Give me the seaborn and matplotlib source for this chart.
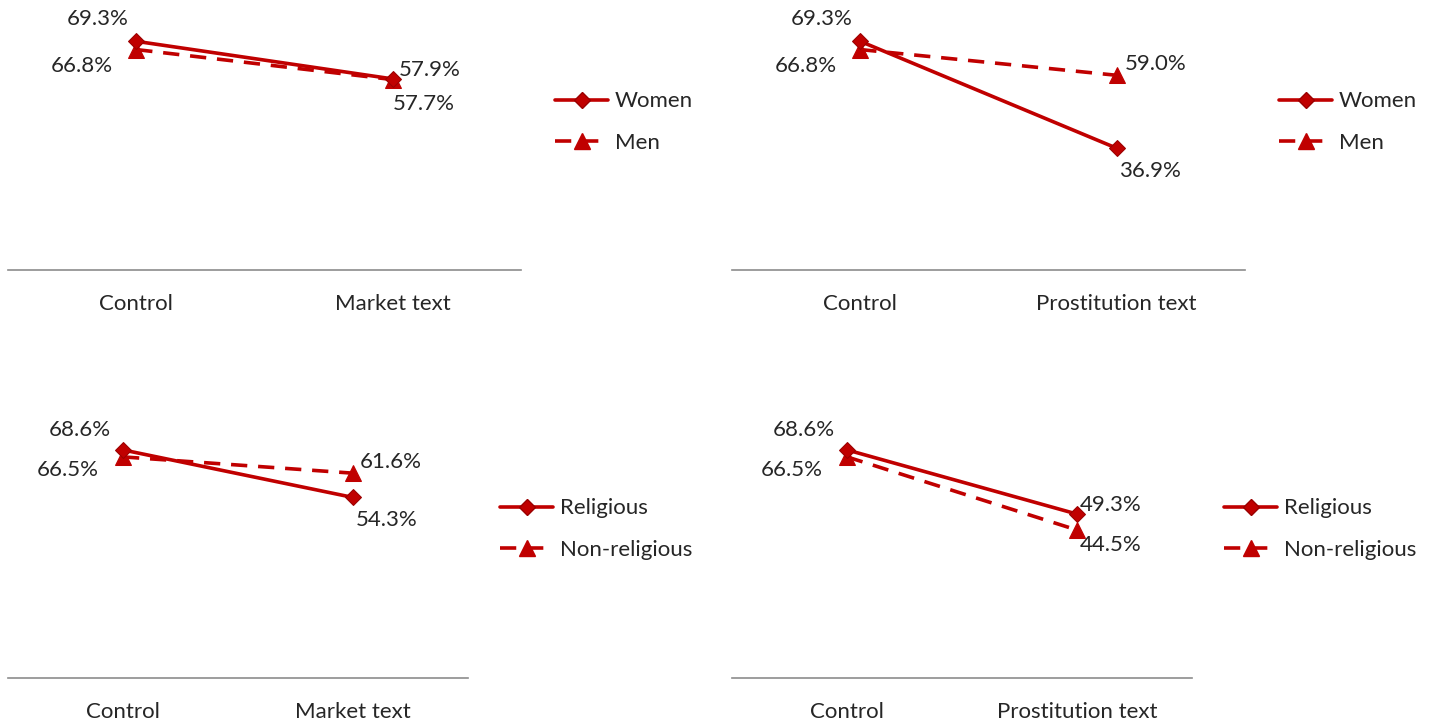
import pandas as pd
import seaborn as sns
import matplotlib.pyplot as plt
from matplotlib.lines import Line2D

# data (percent)
conditions_market = ['Control', 'Market text']
conditions_prost = ['Control', 'Prostitution text']

women_market = [69.3, 57.9]
men_market = [66.8, 57.7]
women_prost = [69.3, 36.9]
men_prost = [66.8, 59.0]

relig_market = [68.6, 54.3]
nonrelig_market = [66.5, 61.6]
relig_prost = [68.6, 49.3]
nonrelig_prost = [66.5, 44.5]

sns.set_style('white')
plt.rcParams['font.family'] = ['Lato', 'DejaVu Sans']

RED = '#C00000'
EDGE = '#9A0000'
FS = 16

fig = plt.figure(figsize=(14.29, 7.23), dpi=100)
W, H = 1429, 723


def add_axes(x0, x1, ybottom, ytop):
    return fig.add_axes([x0 / W, 1 - ybottom / H, (x1 - x0) / W, (ybottom - ytop) / H])


panels = [
    (add_axes(8, 521, 270, 6), conditions_market, women_market, men_market, ['Women', 'Men'],
     [(-39, 22), (37, 9)], [(-54, -16), (31, -24)], (555, 101)),
    (add_axes(732, 1245, 270, 6), conditions_prost, women_prost, men_prost, ['Women', 'Men'],
     [(-39, 22), (33, -23)], [(-54, -16), (39, 11)], (1279, 101)),
    (add_axes(8, 468, 678, 412), conditions_market, relig_market, nonrelig_market, ['Religious', 'Non-religious'],
     [(-43, 20), (34, -23)], [(-55, -13), (38, 11)], (500, 508)),
    (add_axes(732, 1192, 678, 412), conditions_prost, relig_prost, nonrelig_prost, ['Religious', 'Non-religious'],
     [(-43, 20), (34, 9)], [(-55, -13), (34, -15)], (1224, 508)),
]

for ax, cats, solid, dashed, names, off_s, off_d, legpos in panels:
    df = pd.DataFrame({'cond': cats * 2,
                       'value': solid + dashed,
                       'group': [names[0]] * 2 + [names[1]] * 2})
    sns.lineplot(data=df[df.group == names[1]], x='cond', y='value', ax=ax, sort=False,
                 color=RED, linewidth=2.6, dashes=False, linestyle=(0, (4.5, 3)),
                 marker='^', markersize=11, markerfacecolor=RED, markeredgecolor=RED)
    sns.lineplot(data=df[df.group == names[0]], x='cond', y='value', ax=ax, sort=False,
                 color=RED, linewidth=2.6, marker='D', markersize=8,
                 markerfacecolor=RED, markeredgecolor=EDGE)
    for i, v in enumerate(solid):
        ax.annotate(f'{v:.1f}%', (i, v), xytext=off_s[i], textcoords='offset pixels',
                    ha='center', va='center', fontsize=FS)
    for i, v in enumerate(dashed):
        ax.annotate(f'{v:.1f}%', (i, v), xytext=off_d[i], textcoords='offset pixels',
                    ha='center', va='center', fontsize=FS)
    ax.set_xlim(-0.5, 1.5)
    ax.set_ylim(0, 80)
    ax.set_xlabel('')
    ax.set_ylabel('')
    ax.set_yticks([])
    ax.tick_params(axis='x', length=0, labelsize=FS, pad=17)
    for s in ['top', 'left', 'right']:
        ax.spines[s].set_visible(False)
    ax.spines['bottom'].set_color('#8C8C8C')
    ax.spines['bottom'].set_linewidth(1.2)

    handles = [Line2D([], [], color=RED, linewidth=2.6, marker='D', markersize=8,
                      markerfacecolor=RED, markeredgecolor=EDGE),
               Line2D([], [], color=RED, linewidth=2.6, linestyle=(0, (4.5, 3)), marker='^',
                      markersize=11, markerfacecolor=RED, markeredgecolor=RED)]
    fig.legend(handles, names, loc='center left', frameon=False, fontsize=FS,
               bbox_to_anchor=(legpos[0] / W, 1 - (legpos[1] + 21) / H),
               handlelength=2.4, handletextpad=0.3, labelspacing=0.95, borderaxespad=0,
               borderpad=0)

fig.savefig('out.png', dpi=100)
